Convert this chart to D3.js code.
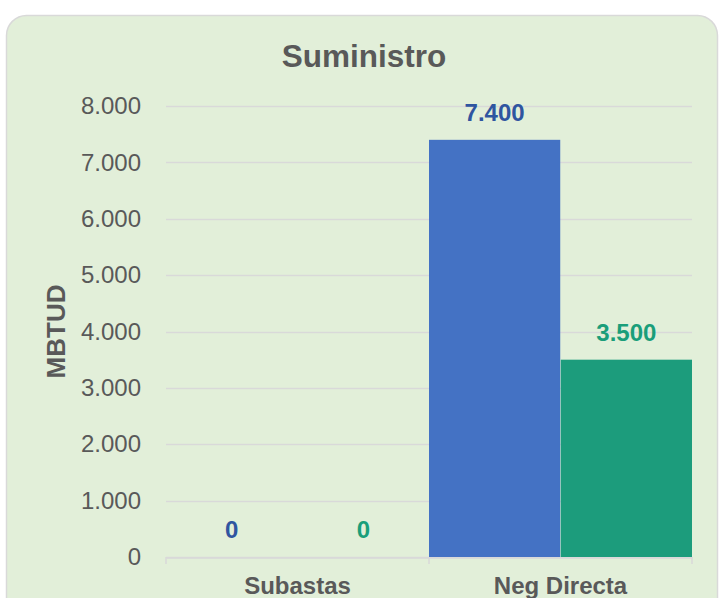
<!DOCTYPE html>
<html lang="es">
<head>
<meta charset="utf-8">
<title>Suministro</title>
<script src="https://d3js.org/d3.v7.min.js"></script>
<style>
  body { margin: 0; background: #ffffff; }
  svg { display: block; }
</style>
</head>
<body>
<script>
// datos del grafico
var categorias = ["Subastas", "Neg Directa"];
var serieA = [0, 7400];   // azul
var serieB = [0, 3500];   // verde
var ticksY = [0, 1000, 2000, 3000, 4000, 5000, 6000, 7000, 8000];

var w = 719, h = 598;
var margen = { left: 166, right: 27, top: 106, bottom: 41 };

var svg = d3.select("body").append("svg")
    .attr("width", w)
    .attr("height", h)
    .style("font-family", "'Liberation Sans', Arial, sans-serif");

// fondo del grafico con borde redondeado
svg.append("rect")
    .attr("x", 6.5).attr("y", 15.5)
    .attr("width", 711).attr("height", 640)
    .attr("rx", 20).attr("ry", 20)
    .attr("fill", "#e2efd9")
    .attr("stroke", "#d9d9d9")
    .attr("stroke-width", 1.5);

var x0 = d3.scaleBand()
    .domain(categorias)
    .range([margen.left, w - margen.right])
    .paddingInner(0).paddingOuter(0);

var x1 = d3.scaleBand()
    .domain(["a", "b"])
    .range([0, x0.bandwidth()])
    .paddingInner(0.004);

var y = d3.scaleLinear()
    .domain([0, 8000])
    .range([h - margen.bottom, margen.top]);

var fmt = function(v) { return d3.format(",")(v).replace(/,/g, "."); };

// lineas de cuadricula
svg.append("g")
    .selectAll("line")
    .data(ticksY)
    .enter().append("line")
    .attr("x1", margen.left).attr("x2", w - margen.right)
    .attr("y1", function(d) { return Math.round(y(d)) + 0.5; })
    .attr("y2", function(d) { return Math.round(y(d)) + 0.5; })
    .attr("stroke", "#d9d9d9")
    .attr("stroke-width", 1.5);

// etiquetas del eje Y
var ejeY = d3.axisLeft(y).tickValues(ticksY).tickSize(0).tickPadding(25).tickFormat(fmt);
var gY = svg.append("g").attr("transform", "translate(" + margen.left + ",0)").call(ejeY);
gY.select(".domain").remove();
gY.selectAll("text")
    .attr("font-size", 24)
    .attr("fill", "#595959")
    .style("font-family", "'Liberation Sans', Arial, sans-serif");

// barras
var filas = categorias.map(function(c, i) {
    return [{ c: c, s: "a", v: serieA[i] }, { c: c, s: "b", v: serieB[i] }];
});
var colores = { a: "#4472c4", b: "#1c9c7c" };
var coloresTexto = { a: "#2f55a0", b: "#1a9e7a" };

var grupos = svg.append("g").selectAll("g")
    .data(filas)
    .enter().append("g")
    .attr("transform", function(d) { return "translate(" + x0(d[0].c) + ",0)"; });

grupos.selectAll("rect")
    .data(function(d) { return d; })
    .enter().append("rect")
    .attr("x", function(d) { return x1(d.s); })
    .attr("y", function(d) { return y(d.v); })
    .attr("width", x1.bandwidth())
    .attr("height", function(d) { return y(0) - y(d.v); })
    .attr("fill", function(d) { return colores[d.s]; });

grupos.selectAll("text")
    .data(function(d) { return d; })
    .enter().append("text")
    .attr("x", function(d) { return x1(d.s) + x1.bandwidth() / 2; })
    .attr("y", function(d) { return y(d.v) - 19; })
    .attr("text-anchor", "middle")
    .attr("font-size", 24)
    .attr("font-weight", "bold")
    .attr("fill", function(d) { return coloresTexto[d.s]; })
    .text(function(d) { return fmt(d.v); });

// eje X
var ejeX = d3.axisBottom(x0).tickSize(0).tickPadding(19);
var gX = svg.append("g").attr("transform", "translate(0," + (Math.round(y(0)) + 0.5) + ")").call(ejeX);
gX.select(".domain").attr("stroke", "#d9d9d9").attr("stroke-width", 1.5);
gX.selectAll("text")
    .attr("font-size", 24)
    .attr("font-weight", "bold")
    .attr("fill", "#595959")
    .attr("dy", "0.71em")
    .style("font-family", "'Liberation Sans', Arial, sans-serif");

// marcas entre categorias
var bordes = [margen.left].concat(categorias.map(function(c) { return x0(c) + x0.bandwidth(); }));
svg.append("g").selectAll("line")
    .data(bordes)
    .enter().append("line")
    .attr("x1", function(d) { return d; }).attr("x2", function(d) { return d; })
    .attr("y1", y(0)).attr("y2", y(0) + 7)
    .attr("stroke", "#d9d9d9")
    .attr("stroke-width", 1.5);

// titulo
svg.append("text")
    .attr("x", 364).attr("y", 67)
    .attr("text-anchor", "middle")
    .attr("font-size", 31.5)
    .attr("font-weight", "bold")
    .attr("fill", "#595959")
    .text("Suministro");

// titulo del eje Y
svg.append("text")
    .attr("transform", "translate(65," + ((margen.top + h - margen.bottom) / 2) + ") rotate(-90)")
    .attr("text-anchor", "middle")
    .attr("font-size", 26)
    .attr("font-weight", "bold")
    .attr("fill", "#595959")
    .text("MBTUD");
</script>
</body>
</html>
